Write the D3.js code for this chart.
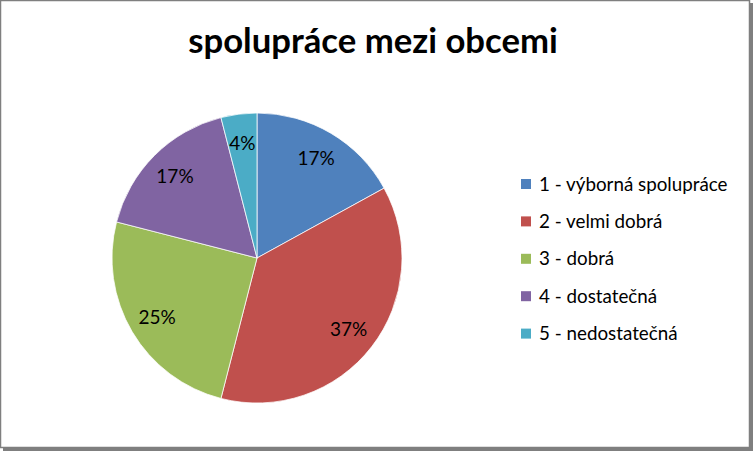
<!DOCTYPE html>
<html>
<head>
<meta charset="utf-8">
<script src="https://cdn.jsdelivr.net/npm/d3@7"></script>
<style>
  body { margin: 0; background: #fff; }
  svg { display: block; }
</style>
</head>
<body>
<div id="chart"></div>
<script>
// chart data (percent of answers)
const title = "spolupráce mezi obcemi";
const categories = ["1 - výborná spolupráce", "2 - velmi dobrá", "3 - dobrá", "4 - dostatečná", "5 - nedostatečná"];
const values = [17, 37, 25, 17, 4];
const colors = ["#4F81BD", "#C0504D", "#9BBB59", "#8064A2", "#4BACC6"];

const W = 753, H = 451;
const font = "Lato, 'Open Sans', sans-serif";

const svg = d3.select("#chart")
  .append("svg")
    .attr("width", W)
    .attr("height", H);

// chart area border with shadow on right/bottom
svg.append("rect")
  .attr("x", 3).attr("y", 3)
  .attr("width", W - 3).attr("height", H - 3)
  .attr("fill", "#7f7f7f");
svg.append("rect")
  .attr("x", 0.5).attr("y", 0.5)
  .attr("width", W - 4).attr("height", H - 4)
  .attr("fill", "#fff")
  .attr("stroke", "#7f7f7f")
  .attr("stroke-width", 1.5);

// title, fitted to the reference width
const titleText = svg.append("text")
  .attr("x", 373)
  .attr("y", 53)
  .attr("text-anchor", "middle")
  .style("font-family", font)
  .style("font-weight", "bold")
  .style("font-size", "32px")
  .style("fill", "#000")
  .text(title);
const tw = titleText.node().getComputedTextLength();
titleText.style("font-size", (32 * 370 / tw).toFixed(1) + "px");

// pie
const cx = 257, cy = 258, r = 145;
const pie = d3.pie().sort(null).value(d => d);
const arcs = pie(values);
const total = d3.sum(values);
const arc = d3.arc().innerRadius(0).outerRadius(r);
const labelArc = d3.arc().innerRadius(r * 0.8).outerRadius(r * 0.8);

const g = svg.append("g")
  .attr("transform", `translate(${cx}, ${cy})`);

g.selectAll("path")
  .data(arcs)
  .enter()
  .append("path")
    .attr("d", arc)
    .attr("fill", (d, i) => colors[i])
    .attr("stroke", "#fff")
    .attr("stroke-width", 0.75);

g.selectAll("text")
  .data(arcs)
  .enter()
  .append("text")
    .attr("transform", d => `translate(${labelArc.centroid(d)})`)
    .attr("text-anchor", "middle")
    .attr("dy", "0.35em")
    .style("font-family", font)
    .style("font-size", "19px")
    .style("fill", "#000")
    .text(d => Math.round(d.data / total * 100) + "%");

// legend
const legend = svg.append("g")
  .attr("transform", "translate(521, 184)");

const item = legend.selectAll("g")
  .data(categories)
  .enter()
  .append("g")
    .attr("transform", (d, i) => `translate(0, ${i * 37.4})`);

item.append("rect")
  .attr("x", 0).attr("y", -5)
  .attr("width", 10).attr("height", 10)
  .attr("fill", (d, i) => colors[i]);

item.append("text")
  .attr("x", 18)
  .attr("dy", "0.35em")
  .style("font-family", font)
  .style("font-size", "18.8px")
  .style("fill", "#000")
  .text(d => d);
</script>
</body>
</html>
